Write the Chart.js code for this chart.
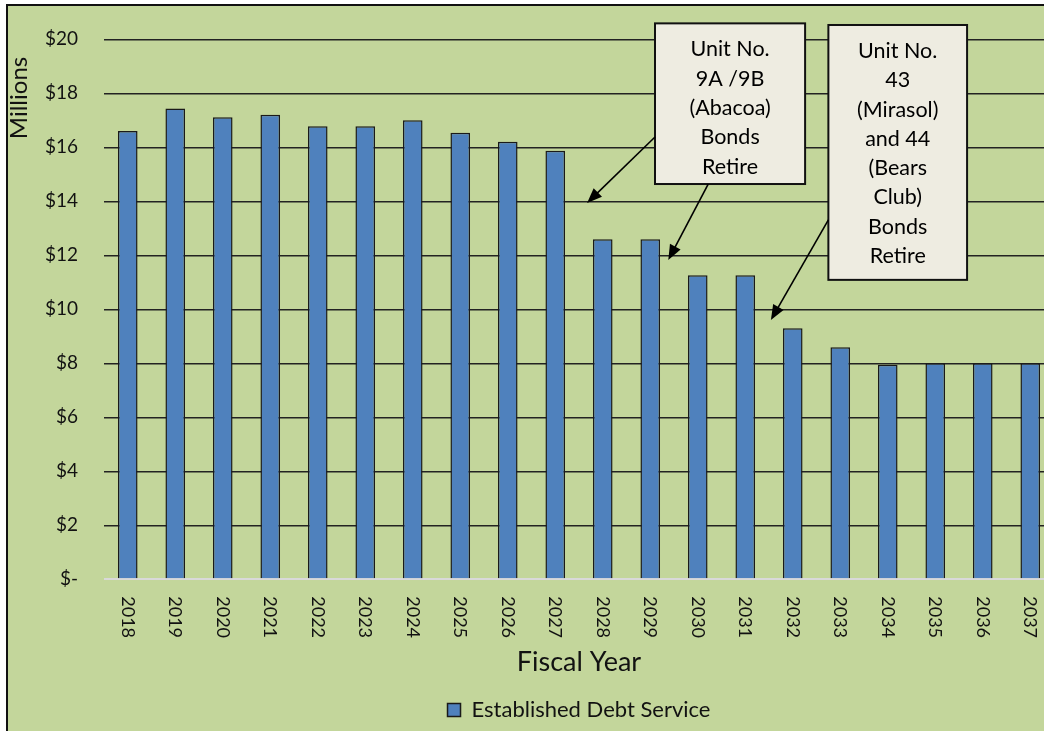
<!DOCTYPE html>
<html>
<head>
<meta charset="utf-8">
<title>Established Debt Service</title>
<script src="https://cdn.jsdelivr.net/npm/chart.js@4.4.1/dist/chart.umd.min.js"></script>
<style>
  html, body { margin: 0; padding: 0; width: 1044px; height: 731px; overflow: hidden; background: #fff; }
  #frame { position: absolute; left: 6px; top: 4px; width: 1060px; height: 760px; border: 2px solid #111; background: #c3d69b; }
  #wrap { position: absolute; left: 0; top: 0; width: 1046px; height: 725px; }
</style>
</head>
<body>
<div id="frame"><div id="wrap"><canvas id="grafica"></canvas></div></div>
<script>
// dades llegides del gràfic (milions de $)
const years = ['2018', '2019', '2020', '2021', '2022', '2023', '2024', '2025', '2026', '2027',
               '2028', '2029', '2030', '2031', '2032', '2033', '2034', '2035', '2036', '2037'];
const debtService = [16.60, 17.44, 17.11, 17.21, 16.78, 16.78, 17.00, 16.54, 16.21, 15.87,
                     12.59, 12.59, 11.26, 11.26, 9.30, 8.59, 7.95, 8.00, 8.00, 8.00];
const yTickLabels = ['$-', '$2', '$4', '$6', '$8', '$10', '$12', '$14', '$16', '$18', '$20'];
const seriesName = 'Established Debt Service';
const yTitle = 'Millions';
const xTitle = 'Fiscal Year';
const note1Lines = ['Unit No.', '9A /9B', '(Abacoa)', 'Bonds', 'Retire'];
const note2Lines = ['Unit No.', '43', '(Mirasol)', 'and 44', '(Bears', 'Club)', 'Bonds', 'Retire'];

const FONT = 'Lato';
const textColor = '#121212';

// caixes i fletxes en coordenades de dades (índex de categoria, valor)
const notes = [
  { lines: note1Lines, x0: 11.10, x1: 14.26, yTop: 20.59, yBot: 14.64 },
  { lines: note2Lines, x0: 14.75, x1: 17.67, yTop: 20.53, yBot: 11.09 }
];
const arrows = [
  { from: [11.10, 16.38], to: [9.67, 13.94] },
  { from: [12.22, 14.64], to: [11.38, 11.83] },
  { from: [14.75, 13.31], to: [13.54, 9.60] }
];

const extras = {
  id: 'extras',
  afterDraw(chart) {
    const ctx = chart.ctx, xs = chart.scales.x, ys = chart.scales.y, area = chart.chartArea;
    const px = (i) => xs.getPixelForValue(i);
    const py = (v) => ys.getPixelForValue(v);
    ctx.save();

    // anys girats en sentit horari
    ctx.font = `18px ${FONT}`;
    ctx.fillStyle = textColor;
    ctx.textAlign = 'left';
    ctx.textBaseline = 'middle';
    years.forEach((yr, i) => {
      ctx.save();
      ctx.translate(xs.getPixelForTick(i), area.bottom + 17);
      ctx.rotate(Math.PI / 2);
      ctx.fillText(yr, 0, 0);
      ctx.restore();
    });

    // títol de l'eix Y, a dalt
    ctx.save();
    ctx.font = `24px ${FONT}`;
    ctx.textAlign = 'center';
    ctx.textBaseline = 'alphabetic';
    ctx.translate(19, 92);
    ctx.rotate(-Math.PI / 2);
    ctx.fillText(yTitle, 0, 0);
    ctx.restore();

    // caixes de notes
    notes.forEach(n => {
      const l = px(n.x0), r = px(n.x1), t = py(n.yTop), b = py(n.yBot);
      ctx.fillStyle = '#eeece1';
      ctx.fillRect(l, t, r - l, b - t);
      ctx.lineWidth = 2;
      ctx.strokeStyle = '#111';
      ctx.strokeRect(l, t, r - l, b - t);
      ctx.fillStyle = '#000';
      ctx.font = `21.5px ${FONT}`;
      ctx.textAlign = 'center';
      ctx.textBaseline = 'middle';
      n.lines.forEach((s, k) => ctx.fillText(s, (l + r) / 2, t + 26 + k * 29.3));
    });

    // fletxes
    arrows.forEach(a => {
      const x0 = px(a.from[0]), y0 = py(a.from[1]), x1 = px(a.to[0]), y1 = py(a.to[1]);
      const ang = Math.atan2(y1 - y0, x1 - x0), len = 15, hw = 6;
      ctx.strokeStyle = '#000';
      ctx.lineWidth = 1.6;
      ctx.beginPath();
      ctx.moveTo(x0, y0);
      ctx.lineTo(x1 - Math.cos(ang) * len * 0.8, y1 - Math.sin(ang) * len * 0.8);
      ctx.stroke();
      ctx.fillStyle = '#000';
      ctx.beginPath();
      ctx.moveTo(x1, y1);
      ctx.lineTo(x1 - Math.cos(ang) * len - Math.sin(ang) * hw, y1 - Math.sin(ang) * len + Math.cos(ang) * hw);
      ctx.lineTo(x1 - Math.cos(ang) * len + Math.sin(ang) * hw, y1 - Math.sin(ang) * len - Math.cos(ang) * hw);
      ctx.closePath();
      ctx.fill();
    });

    ctx.restore();
  }
};

new Chart(document.getElementById('grafica'), {
  type: 'bar',
  data: {
    labels: years,
    datasets: [{
      label: seriesName,
      data: debtService,
      backgroundColor: '#4f81bd',
      borderColor: '#1a1a1a',
      borderWidth: 1.5,
      barPercentage: 0.413,
      categoryPercentage: 1
    }]
  },
  options: {
    responsive: true, maintainAspectRatio: false, animation: false, devicePixelRatio: 1,
    layout: { padding: { top: 33.3, left: 0, right: 0, bottom: 0 } },
    scales: {
      x: {
        grid: { display: false },
        border: { display: false },
        ticks: { display: false },
        title: { display: true, text: xTitle, color: textColor, font: { family: FONT, size: 27 }, padding: { top: 0, bottom: 12.8 } },
        afterFit: (s) => { s.height = 111.7; }
      },
      y: {
        min: 0, max: 20,
        border: { display: false },
        grid: {
          drawTicks: true, tickLength: 5, tickColor: 'rgba(0,0,0,0)',
          color: (c) => c.tick.value === 0 ? '#d9d9d9' : '#222',
          lineWidth: (c) => c.tick.value === 0 ? 2 : 1.4
        },
        ticks: {
          stepSize: 2, padding: 21, color: textColor,
          font: { family: FONT, size: 19 },
          callback: (v) => yTickLabels[Math.round(v / 2)]
        },
        afterFit: (s) => { s.width = 96; }
      }
    },
    plugins: {
      legend: {
        position: 'bottom', fullSize: false,
        labels: { color: textColor, font: { family: FONT, size: 22 }, boxWidth: 13, boxHeight: 13, padding: 8 }
      },
      tooltip: { enabled: false }
    }
  },
  plugins: [extras]
});
</script>
</body>
</html>
